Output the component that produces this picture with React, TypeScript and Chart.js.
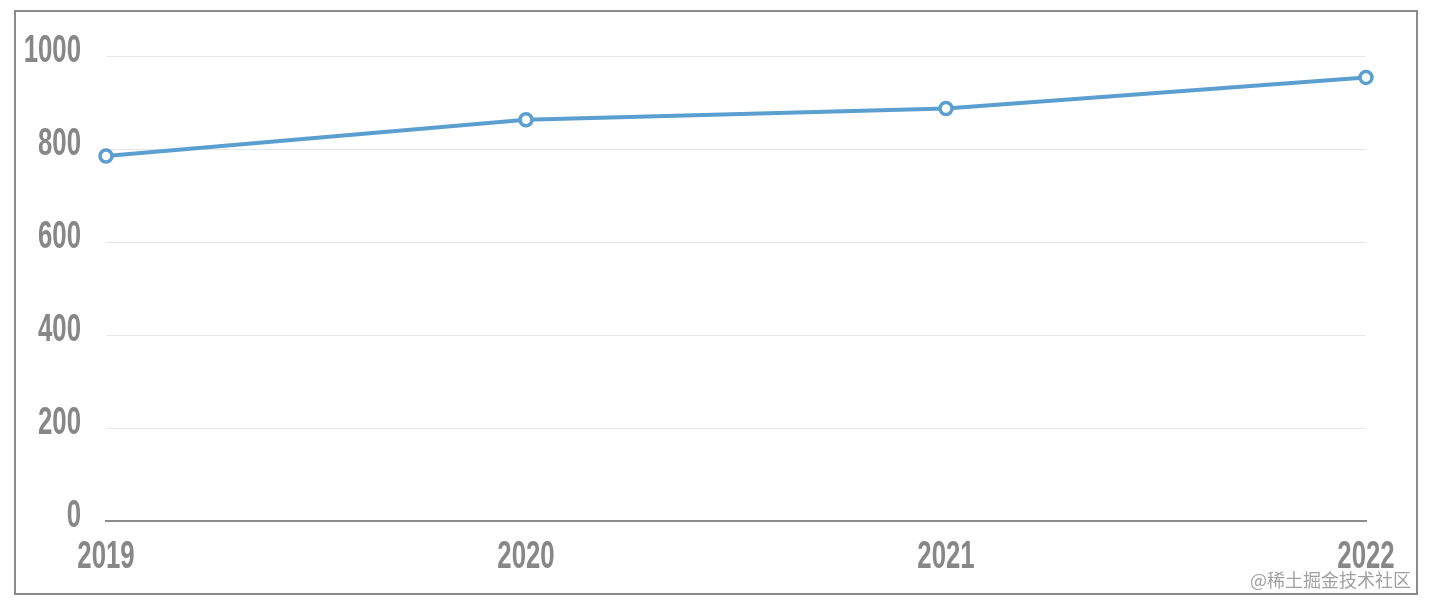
import React, { useEffect, useRef } from "react";
import { Chart, registerables } from "chart.js";

Chart.register(...registerables);

const categories = ["2019", "2020", "2021", "2022"];
const seriesValues = [785, 863, 887, 954];
const yTicks = [0, 200, 400, 600, 800, 1000];

const LABEL_FONT = "bold 39px 'Liberation Sans', Arial, sans-serif";
const LABEL_COLOR = "#878787";
const SQUEEZE = 0.66;

const condensedLabels = {
  id: "condensedLabels",
  afterDraw(chart: any) {
    const ctx = chart.ctx as CanvasRenderingContext2D;
    const xs = chart.scales.x;
    const ys = chart.scales.y;
    ctx.save();
    ctx.font = LABEL_FONT;
    ctx.fillStyle = LABEL_COLOR;
    ctx.textBaseline = "middle";
    ys.ticks.forEach((t: any) => {
      const y = ys.getPixelForValue(t.value) - 5;
      ctx.save();
      ctx.translate(xs.left - 25, y);
      ctx.scale(SQUEEZE, 1);
      ctx.textAlign = "right";
      ctx.fillText(String(t.value), 0, 0);
      ctx.restore();
    });
    categories.forEach((c, i) => {
      const x = xs.getPixelForTick(i);
      ctx.save();
      ctx.translate(x, ys.bottom + 36);
      ctx.scale(SQUEEZE, 1);
      ctx.textAlign = "center";
      ctx.fillText(c, 0, 0);
      ctx.restore();
    });
    ctx.restore();
  },
};

export default function App() {
  const ref = useRef<HTMLCanvasElement | null>(null);

  useEffect(() => {
    if (!ref.current) return;
    const chart = new Chart(ref.current, {
      type: "line",
      data: {
        labels: categories,
        datasets: [
          {
            data: seriesValues,
            borderColor: "#5a9fd0",
            borderWidth: 4,
            pointRadius: 6,
            pointBorderWidth: 3.5,
            pointBackgroundColor: "#ffffff",
            pointBorderColor: "#5a9fd0",
            tension: 0,
          },
        ],
      },
      options: {
        animation: false,
        responsive: false,
        maintainAspectRatio: false,
        layout: { padding: { top: 44, right: 50, left: 0, bottom: 0 } },
        plugins: { legend: { display: false }, tooltip: { enabled: false } },
        scales: {
          x: {
            offset: false,
            grid: { display: false, drawTicks: false },
            border: { display: true, color: "#8c8c8c", width: 2 },
            ticks: { display: false, autoSkip: false },
            afterFit: (s: any) => {
              s.height = 72;
            },
          },
          y: {
            min: 0,
            max: 1000,
            afterBuildTicks: (s: any) => {
              s.ticks = yTicks.map((v) => ({ value: v }));
            },
            grid: { color: "#e6e6e6", lineWidth: 1, drawTicks: false },
            border: { display: false },
            ticks: { display: false },
            afterFit: (s: any) => {
              s.width = 90;
            },
          },
        },
      },
      plugins: [condensedLabels],
    });
    return () => chart.destroy();
  }, []);

  return (
    <div
      style={{
        position: "relative",
        marginLeft: 6,
        marginTop: 2,
        width: 1404,
        height: 585,
        boxSizing: "border-box",
        border: "2px solid #8a8a8a",
        background: "#fff",
      }}
    >
      <canvas ref={ref} width={1400} height={581} style={{ display: "block" }} />
      <div
        style={{
          position: "absolute",
          right: 5,
          bottom: 2,
          fontFamily: "'Noto Sans CJK SC', sans-serif",
          fontSize: 18,
          color: "#a0a0a0",
          lineHeight: "24px",
        }}
      >
        @稀土掘金技术社区
      </div>
    </div>
  );
}
